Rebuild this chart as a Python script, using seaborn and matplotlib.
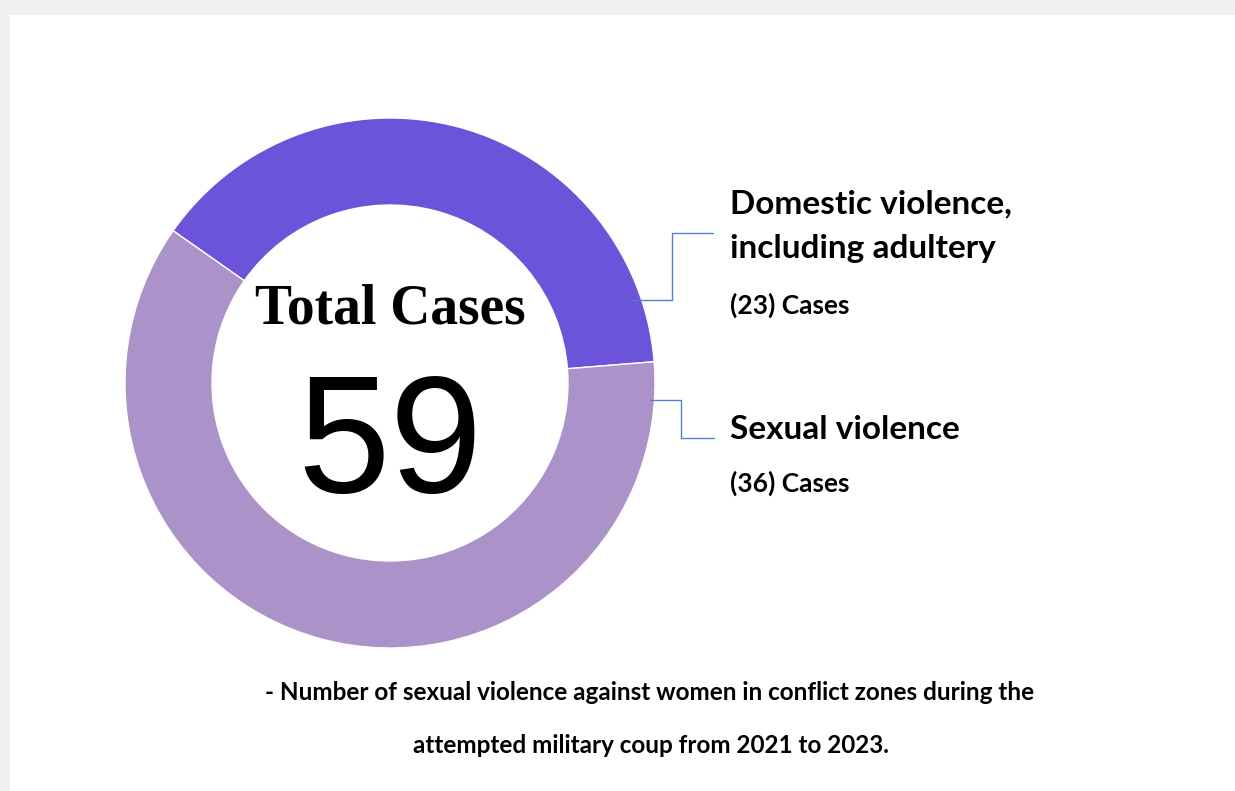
import matplotlib
matplotlib.use("Agg")
import matplotlib.pyplot as plt
import seaborn as sns
from matplotlib.patches import Rectangle

# data
categories = ["Domestic violence,\nincluding adultery", "Sexual violence"]
cases = [23, 36]
colors = ["#6B53DA", "#AB92C8"]
total = sum(cases)
caption = ["- Number of sexual violence against women in conflict zones during the",
           "attempted military coup from 2021 to 2023."]

sns.set_theme(style="white")
plt.rcParams["font.family"] = ["Lato", "DejaVu Sans"]

W, H = 1235, 791
fig = plt.figure(figsize=(W / 100, H / 100), dpi=100, facecolor="#F0F0F0")
ax = fig.add_axes([0, 0, 1, 1])
ax.set_facecolor("none")

# white panel
ax.add_patch(Rectangle((10, 0), W - 10, H - 15, facecolor="white", edgecolor="none", zorder=0))

# donut (pixel coords, y up)
cx, cy = 390, H - 383
ax.pie(cases, colors=colors, startangle=4.6, counterclock=True,
       center=(cx, cy), radius=265, frame=True,
       wedgeprops=dict(width=87, edgecolor="white", linewidth=1))

ax.set_xlim(0, W)
ax.set_ylim(0, H)
ax.set_axis_off()

# center text
ax.text(cx, H - 323, "Total Cases", ha="center", va="baseline", color="black",
        fontsize=40, fontweight="bold", family=["Liberation Serif", "DejaVu Serif"])
ax.text(cx, H - 492, str(total), ha="center", va="baseline", color="black",
        fontsize=120, family=["Liberation Sans", "DejaVu Sans"])

# leader lines
line_kw = dict(color="#4F80D6", linewidth=1)
ax.plot([632, 672, 672, 713], [H - 300, H - 300, H - 233, H - 233], **line_kw)
ax.plot([650, 681, 681, 714], [H - 400, H - 400, H - 438, H - 438], **line_kw)

# labels
lab_kw = dict(ha="left", va="baseline", color="black", fontweight="bold")
l1, l2 = categories[0].split("\n")
ax.text(730, H - 213, l1, fontsize=24, **lab_kw)
ax.text(730, H - 258, l2, fontsize=24, **lab_kw)
ax.text(730, H - 314, f"({cases[0]}) Cases", fontsize=19, **lab_kw)
ax.text(730, H - 439, categories[1], fontsize=24, **lab_kw)
ax.text(730, H - 492, f"({cases[1]}) Cases", fontsize=19, **lab_kw)

# caption
cap_kw = dict(ha="center", va="baseline", color="black", fontsize=17.5, fontweight="bold")
ax.text(650, H - 700, caption[0], **cap_kw)
ax.text(651, H - 753, caption[1], **cap_kw)

fig.savefig("out.png", dpi=100, facecolor=fig.get_facecolor())
